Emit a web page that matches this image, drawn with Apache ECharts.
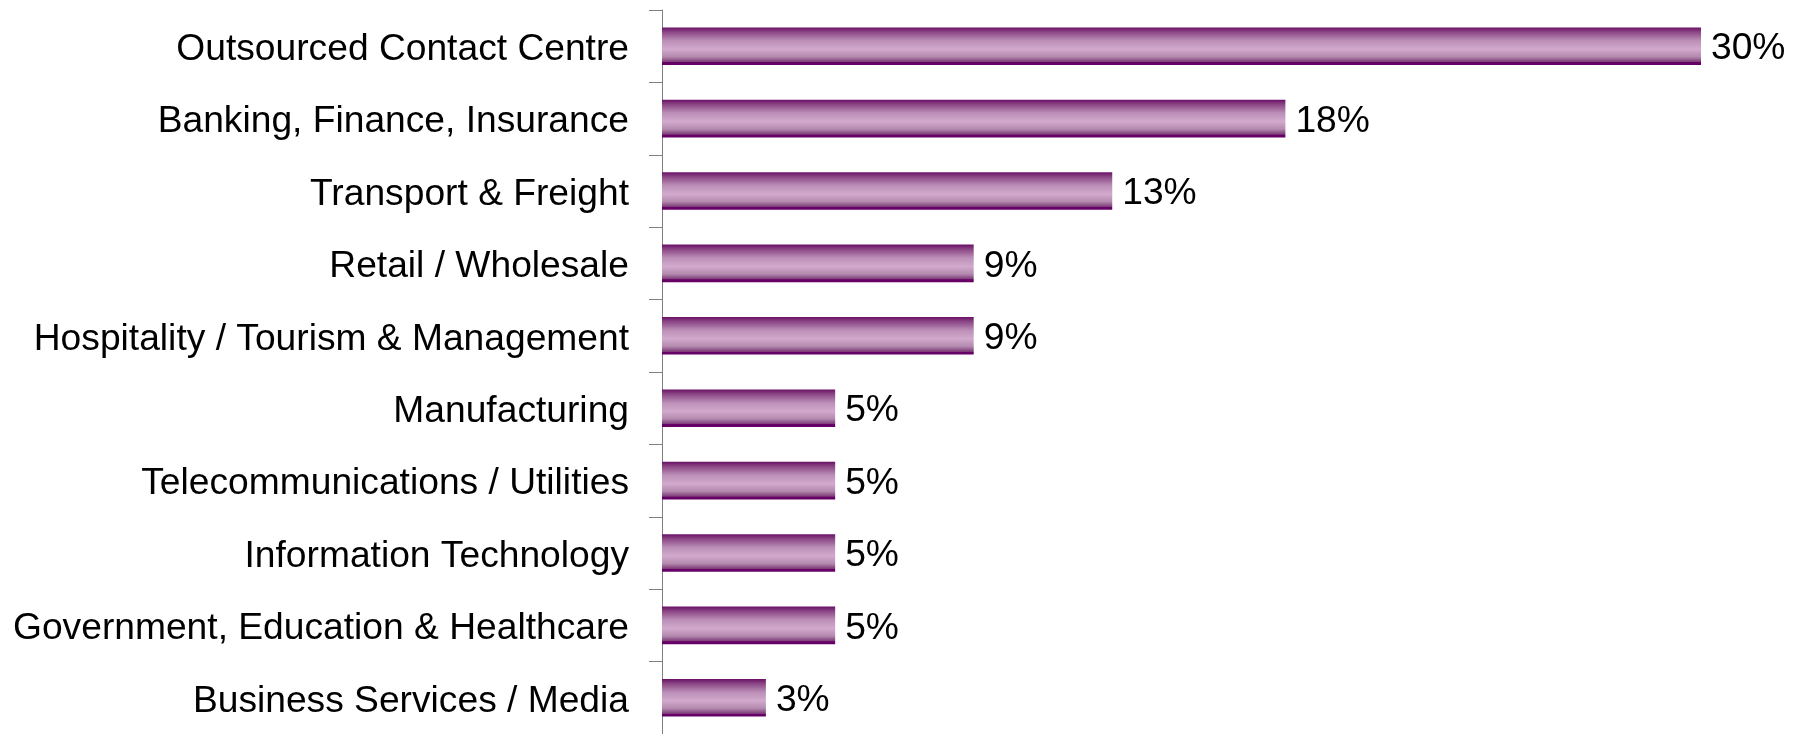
<!DOCTYPE html>
<html>
<head>
<meta charset="utf-8">
<script src="https://cdn.jsdelivr.net/npm/echarts@6/dist/echarts.min.js"></script>
<style>
  html, body { margin: 0; padding: 0; background: #ffffff; }
  #chart { width: 1796px; height: 734px; }
</style>
</head>
<body>
<div id="chart"></div>
<script>
// Share of respondents by industry sector (%)
const categories = [
  'Outsourced Contact Centre',
  'Banking, Finance, Insurance',
  'Transport & Freight',
  'Retail / Wholesale',
  'Hospitality / Tourism & Management',
  'Manufacturing',
  'Telecommunications / Utilities',
  'Information Technology',
  'Government, Education & Healthcare',
  'Business Services / Media'
];
const shares = [30, 18, 13, 9, 9, 5, 5, 5, 5, 3];

const FONT = '"Liberation Sans", Arial, Helvetica, sans-serif';

// Cylinder-like shading on each bar: dark rim, pale band, dark base line
const barFill = new echarts.graphic.LinearGradient(0, 0, 0, 1, [
  { offset: 0.00, color: '#6a0f66' },
  { offset: 0.12, color: '#8a4584' },
  { offset: 0.35, color: '#bb8eb7' },
  { offset: 0.58, color: '#d2aacd' },
  { offset: 0.78, color: '#b48aaf' },
  { offset: 0.92, color: '#7c3a77' },
  { offset: 0.93, color: '#660066' },
  { offset: 1.00, color: '#660066' }
]);

const chart = echarts.init(document.getElementById('chart'), null, { renderer: 'canvas' });
chart.setOption({
  animation: false,
  backgroundColor: '#ffffff',
  grid: { left: 662, right: 95, top: 10, bottom: -3, containLabel: false },
  xAxis: {
    type: 'value',
    min: 0,
    max: 30,
    show: false
  },
  yAxis: {
    type: 'category',
    data: categories,
    inverse: true,
    axisLine: { show: true, lineStyle: { color: '#808080', width: 1 } },
    axisTick: { show: true, length: 13, lineStyle: { color: '#808080', width: 1 } },
    axisLabel: {
      margin: 33,
      color: '#000000',
      fontFamily: FONT,
      fontSize: 37.2,
      // nudge the category names a few pixels below the band centre
      formatter: (v) => '{n|' + v + '}',
      rich: {
        n: {
          color: '#000000',
          fontFamily: FONT,
          fontSize: 37.2,
          padding: [7, 0, 0, 0]
        }
      }
    },
    splitLine: { show: false }
  },
  series: [{
    type: 'bar',
    data: shares,
    barWidth: '52%',
    itemStyle: { color: barFill },
    label: {
      show: true,
      position: 'right',
      distance: 10,
      offset: [0, 3],
      formatter: '{c}%',
      color: '#000000',
      fontFamily: FONT,
      fontSize: 37.2
    }
  }]
});
</script>
</body>
</html>
